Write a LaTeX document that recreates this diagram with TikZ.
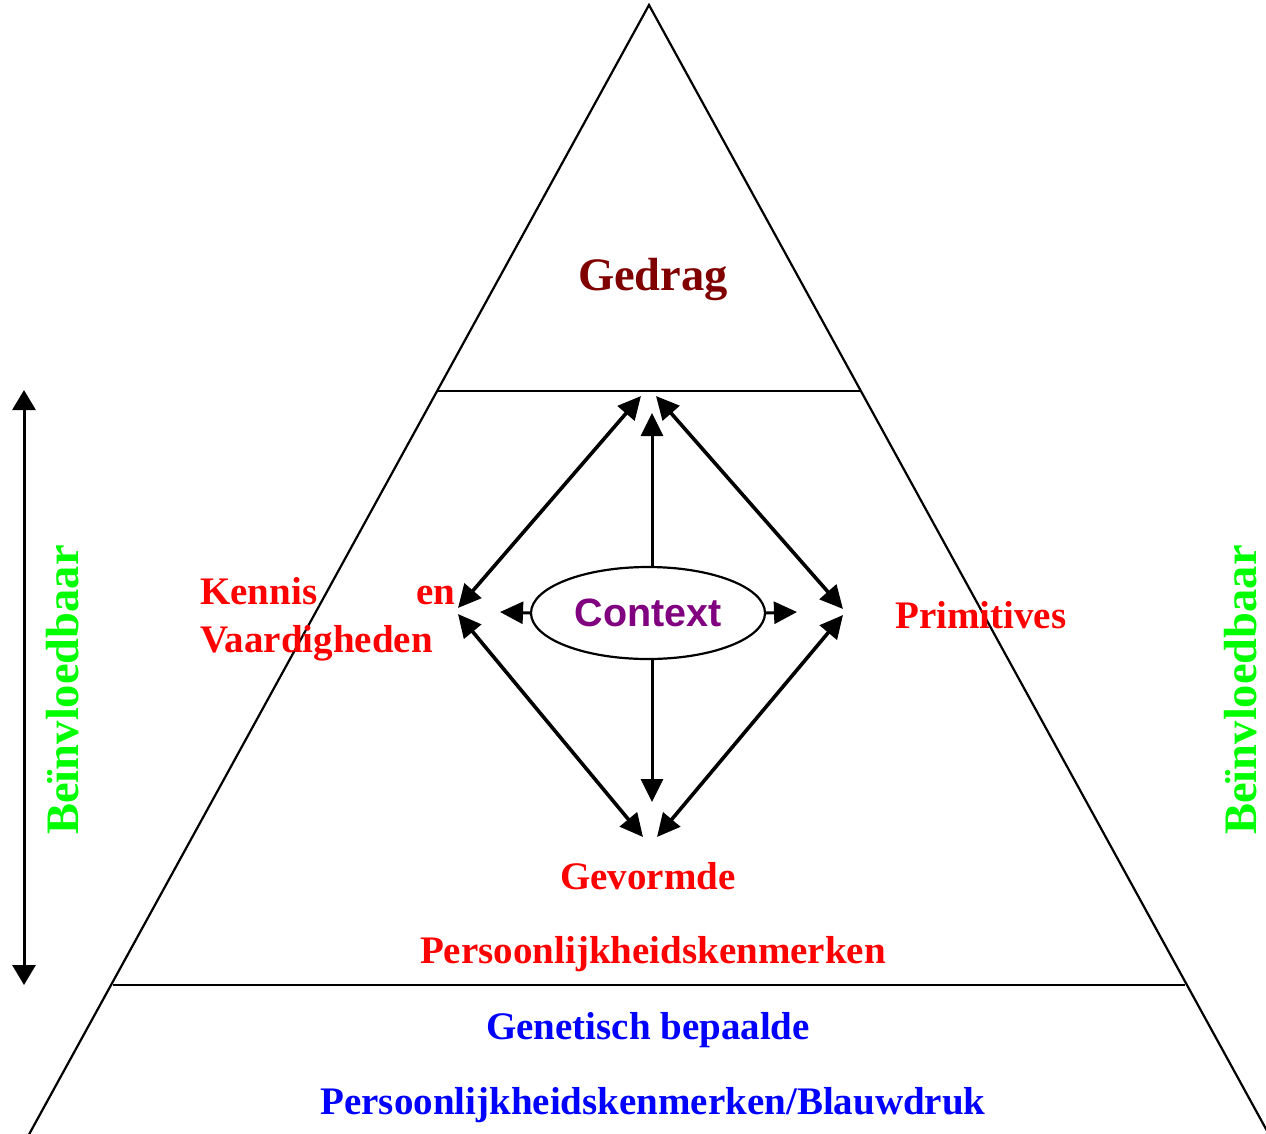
\documentclass[tikz,border=0pt]{standalone}
\usepackage{fontspec}
\setmainfont{Liberation Serif}
\newfontfamily\ctxfont{Liberation Sans}
\usetikzlibrary{arrows.meta,shapes.geometric}
\definecolor{gedragred}{RGB}{128,0,0}
\definecolor{ctxpurple}{RGB}{128,0,128}
\definecolor{lgreen}{RGB}{0,255,0}
\begin{document}
\begin{tikzpicture}[x=1pt,y=-1pt,
  lbl/.style={inner sep=0pt, font=\bfseries\fontsize{39}{46}\selectfont},
  big/.style={inner sep=0pt, font=\bfseries\fontsize{46.5}{52}\selectfont},
  onetip/.style={line width=3pt,-{Triangle[length=23pt,width=22pt]}},
  twotip/.style={line width=3.6pt,{Triangle[length=23pt,width=22pt]}-{Triangle[length=23pt,width=22pt]}},
  sidearrow/.style={line width=3pt,{Triangle[length=20pt,width=23pt]}-{Triangle[length=20pt,width=23pt]}},
  frame/.style={line width=2.2pt}
]
\useasboundingbox (0,0) rectangle (1266,1133);
\clip (0,0) rectangle (1266,1133);
\fill[white] (0,0) rectangle (1266,1133);

% triangle and layers
\coordinate (apex) at (649,5);
\coordinate (baseL) at (4,1180);
\coordinate (baseR) at (1294,1180);
\draw[frame] (baseL) -- (apex) -- (baseR);
\coordinate (l1a) at (437,391);
\coordinate (l1b) at (861,391);
\coordinate (l2a) at (113,985);
\coordinate (l2b) at (1185,985);
\draw[frame] (l1a) -- (l1b);
\draw[frame] (l2a) -- (l2b);

% texts
\node[big, text=gedragred, anchor=base] (gedrag) at (653,290) {Gedrag};
\node[lbl, text=red, anchor=base west] (kennis) at (200,604) {\hbox to 255pt{Kennis\hfill en}};
\node[lbl, text=red, anchor=base west] (vaard) at (200,652) {Vaardigheden};
\node[lbl, text=red, anchor=base west] (prim) at (895,628) {Primitives};
\node[lbl, text=red, anchor=base] (gevormde) at (648,889) {Gevormde};
\node[lbl, text=red, anchor=base] (pers) at (653,963) {Persoonlijkheidskenmerken};
\node[lbl, text=blue, anchor=base] (genet) at (648,1039) {Genetisch bepaalde};
\node[lbl, text=blue, anchor=base] (blauw) at (653,1114) {Persoonlijkheidskenmerken/Blauwdruk};
\node[big, text=lgreen, rotate=90, anchor=base] (beinL) at (78,690) {Beïnvloedbaar};
\node[big, text=lgreen, rotate=90, anchor=base] (beinR) at (1256,690) {Beïnvloedbaar};

% context
\node[ellipse, draw, line width=2.2pt, minimum width=234pt, minimum height=92pt, inner sep=0pt,
      font=\ctxfont\bfseries\fontsize{39.5}{40}\selectfont, text=ctxpurple] (ctx) at (648,613) {Context};

\coordinate (upend) at (652,413);
\coordinate (dnend) at (652,802);
\coordinate (lfend) at (500,612);
\coordinate (rtend) at (797,612);
\draw[onetip] (ctx.north -| upend) -- (upend);
\draw[onetip] (ctx.south -| dnend) -- (dnend);
\draw[onetip] (ctx.west) -- (lfend);
\draw[onetip] (ctx.east) -- (rtend);

% diamond of double arrows
\coordinate (t1) at (641,396);
\coordinate (t2) at (656,396);
\coordinate (lv1) at (458,608);
\coordinate (lv2) at (458,614);
\coordinate (rv1) at (843,609);
\coordinate (rv2) at (843,615);
\coordinate (b1) at (643,837);
\coordinate (b2) at (657,837);
\draw[twotip] (lv1) -- (t1);
\draw[twotip] (t2) -- (rv1);
\draw[twotip] (lv2) -- (b1);
\draw[twotip] (rv2) -- (b2);

% side arrow
\coordinate (stop) at (24,390);
\coordinate (sbot) at (24,985);
\draw[sidearrow] (stop) -- (sbot);
\end{tikzpicture}
\end{document}
